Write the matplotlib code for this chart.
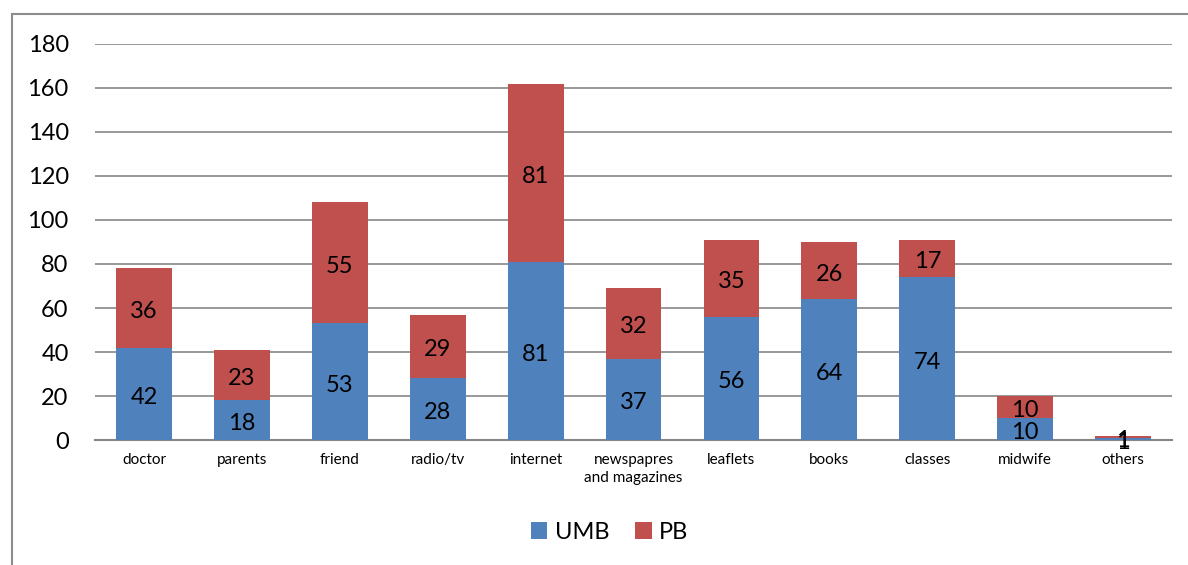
import numpy as np
import matplotlib.pyplot as plt
from matplotlib.patches import Rectangle

categories = ["doctor", "parents", "friend", "radio/tv", "internet",
              "newspapres\nand magazines", "leaflets", "books", "classes",
              "midwife", "others"]
umb = [42, 18, 53, 28, 81, 37, 56, 64, 74, 10, 1]
pb = [36, 23, 55, 29, 81, 32, 35, 26, 17, 10, 1]

blue = "#4F81BD"
red = "#C0504D"
grid_col = "#868686"

plt.rcParams['font.family'] = ['Lato', 'DejaVu Sans']

fig = plt.figure(figsize=(11.88, 5.65), dpi=100)
ax = fig.add_axes([0.080, 0.2212, 0.9065, 0.701])

x = np.arange(len(categories))
w = 0.57
b1 = ax.bar(x, umb, w, color=blue, label="UMB", zorder=3)
b2 = ax.bar(x, pb, w, bottom=umb, color=red, label="PB", zorder=3)

# value labels, centred in each segment (slightly low, like the original)
for bars in (b1, b2):
    for r in bars:
        cy = r.get_y() + r.get_height() / 2
        ax.annotate(f"{r.get_height():g}", (r.get_x() + r.get_width() / 2, cy),
                    xytext=(0, -2.5), textcoords="offset points",
                    ha="center", va="center", fontsize=17, zorder=4)

ax.set_xlim(-0.5, len(categories) - 0.5)
ax.set_ylim(0, 180)
ax.set_yticks(range(0, 181, 20))
ax.yaxis.grid(True, color=grid_col, linewidth=1.2, zorder=0)
ax.set_axisbelow(True)
for s in ["top", "right", "left"]:
    ax.spines[s].set_visible(False)
ax.spines["bottom"].set_color(grid_col)
ax.spines["bottom"].set_linewidth(1.5)
ax.tick_params(axis="y", length=0, labelsize=17, pad=19)
ax.tick_params(axis="x", length=0, labelsize=11, pad=9)
ax.set_xticks(x)
ax.set_xticklabels(categories, linespacing=1.4)

fig.legend(loc="center", bbox_to_anchor=(0.513, 0.058), ncol=2, frameon=False,
           fontsize=17, handlelength=0.7, handleheight=0.7,
           handletextpad=0.3, columnspacing=1.1)

fig.patches.append(Rectangle((12 / 1188, -0.1), 1.2, 1 - 14 / 565 + 0.1,
                             transform=fig.transFigure, fill=False,
                             edgecolor="#8c8c8c", linewidth=1.5))

fig.savefig("out.png", dpi=100)
